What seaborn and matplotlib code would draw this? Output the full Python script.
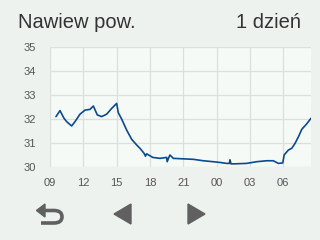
import matplotlib
matplotlib.use("Agg")
import matplotlib.pyplot as plt
import seaborn as sns
import pandas as pd
from matplotlib.patches import Polygon
from matplotlib.path import Path
import matplotlib.patches as mpatches

# Data: hours since midnight of day 1 (values > 24 are next day)
hours = [9.54, 9.9, 10.26, 10.5, 10.95, 11.25, 11.7, 12.15, 12.6, 12.9, 13.26, 13.65,
         14.1, 14.55, 14.85, 15.0, 15.15, 15.46, 15.9, 16.36, 16.8, 17.1, 17.47, 17.6,
         17.7, 18.25, 18.9, 19.5, 19.55, 19.7, 19.8, 20.1, 21.9, 22.8, 23.7, 24.3,
         24.9, 25.15, 25.2, 25.3, 25.5, 26.7, 27.6, 28.5, 29.1, 29.57, 29.96, 30.08,
         30.47, 30.77, 31.07, 31.37, 31.67, 32.1, 32.5]
values = [32.1, 32.35, 32.03, 31.89, 31.71, 31.89, 32.2, 32.37, 32.4, 32.54, 32.17, 32.1,
          32.2, 32.44, 32.58, 32.65, 32.26, 31.99, 31.54, 31.15, 30.92, 30.78, 30.57, 30.45,
          30.55, 30.4, 30.36, 30.4, 30.22, 30.4, 30.5, 30.36, 30.32, 30.26, 30.22, 30.19,
          30.15, 30.15, 30.3, 30.13, 30.13, 30.15, 30.22, 30.26, 30.26, 30.15, 30.17, 30.5,
          30.71, 30.78, 30.99, 31.26, 31.57, 31.79, 32.03]
xtick_pos = [9, 12, 15, 18, 21, 24, 27, 30]
xtick_labels = ["09", "12", "15", "18", "21", "00", "03", "06"]
yticks = [30, 31, 32, 33, 34, 35]
title_left = "Nawiew pow."
title_right = "1 dzień"

df = pd.DataFrame({"hour": hours, "value": values})

sns.set_theme(style="white")
plt.rcParams['font.family'] = ['Liberation Sans', 'DejaVu Sans']

W, H = 320, 240
fig = plt.figure(figsize=(3.2, 2.4), dpi=100, facecolor="#eef2ef")
ax = fig.add_axes([50 / W, 73 / H, 261 / W, 120 / H])
ax.set_facecolor("#f6faf7")

sns.lineplot(data=df, x="hour", y="value", ax=ax, color="#0a4a8f", linewidth=1.2)

ax.set_xlim(9, 32.5)
ax.set_ylim(30, 35)
ax.set_xticks(xtick_pos)
ax.set_xticklabels(xtick_labels)
ax.set_yticks(yticks)
ax.set_xlabel("")
ax.set_ylabel("")
ax.grid(True, color="#dcdfdc", linewidth=0.9)
ax.set_axisbelow(True)
for s in ax.spines.values():
    s.set_visible(False)
ax.tick_params(axis="y", length=6.5, width=0.9, color="#dcdfdc", pad=3.5,
               labelsize=8, labelcolor="#555555")
ax.tick_params(axis="x", length=4.5, width=0.9, color="#dcdfdc", pad=3.5,
               labelsize=8, labelcolor="#555555")

fig.text(18 / W, 1 - 23 / H, title_left, fontsize=14.5, color="#333333",
         va="center", ha="left")
fig.text(301 / W, 1 - 23 / H, title_right, fontsize=14.5, color="#333333",
         va="center", ha="right")

# Navigation icons (figure pixel coords, y from top)
icon_c = "#606060"
def P(x, y):
    return (x / W, 1 - y / H)

fig.patches.append(Polygon([P(114, 214), P(131, 204), P(131, 224)], closed=True,
                           transform=fig.transFigure, color=icon_c))
fig.patches.append(Polygon([P(205, 214), P(188, 204), P(188, 224)], closed=True,
                           transform=fig.transFigure, color=icon_c))
verts = [P(44, 210.5), P(54, 210.5), P(62, 210.5), P(62, 216.8), P(62, 223),
         P(54, 223), P(41, 223)]
codes = [Path.MOVETO, Path.LINETO, Path.CURVE3, Path.CURVE3, Path.CURVE3,
         Path.CURVE3, Path.LINETO]
fig.patches.append(mpatches.PathPatch(Path(verts, codes), transform=fig.transFigure,
                                      facecolor="none", edgecolor=icon_c, linewidth=2.6))
fig.patches.append(Polygon([P(36.5, 210.5), P(45, 204), P(45, 217)], closed=True,
                           transform=fig.transFigure, color=icon_c))

fig.savefig("out.png", dpi=100, facecolor=fig.get_facecolor())
